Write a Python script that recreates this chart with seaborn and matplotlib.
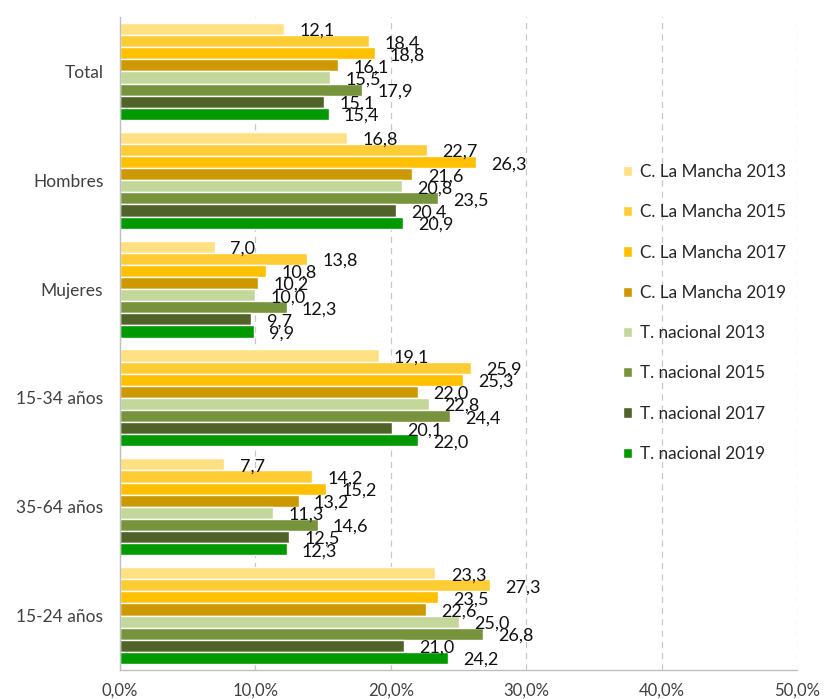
import pandas as pd
import matplotlib.pyplot as plt
import seaborn as sns
import numpy as np
from matplotlib.ticker import FuncFormatter, FixedLocator

# data (percent)
categories = ['Total', 'Hombres', 'Mujeres', '15-34 años', '35-64 años', '15-24 años']
series = ['C. La Mancha 2013', 'C. La Mancha 2015', 'C. La Mancha 2017', 'C. La Mancha 2019',
          'T. nacional 2013', 'T. nacional 2015', 'T. nacional 2017', 'T. nacional 2019']

clm_2013 = [12.1, 16.8, 7.0, 19.1, 7.7, 23.3]
clm_2015 = [18.4, 22.7, 13.8, 25.9, 14.2, 27.3]
clm_2017 = [18.8, 26.3, 10.8, 25.3, 15.2, 23.5]
clm_2019 = [16.1, 21.6, 10.2, 22.0, 13.2, 22.6]
tn_2013 = [15.5, 20.8, 10.0, 22.8, 11.3, 25.0]
tn_2015 = [17.9, 23.5, 12.3, 24.4, 14.6, 26.8]
tn_2017 = [15.1, 20.4, 9.7, 20.1, 12.5, 21.0]
tn_2019 = [15.4, 20.9, 9.9, 22.0, 12.3, 24.2]

colors = ['#FFE083', '#FFCD33', '#FFC000', '#CC9900',
          '#C4D79B', '#77933C', '#4F6228', '#009900']

values = [clm_2013, clm_2015, clm_2017, clm_2019, tn_2013, tn_2015, tn_2017, tn_2019]

# long format table for seaborn
rows = []
for s, vals in zip(series, values):
    for c, v in zip(categories, vals):
        rows.append({'grupo': c, 'serie': s, 'valor': v})
df = pd.DataFrame(rows)

sns.set_style('white')
plt.rcParams['font.family'] = ['Lato', 'DejaVu Sans']
narrow = ['Liberation Sans Narrow', 'Lato', 'DejaVu Sans']

fig = plt.figure(figsize=(8.24, 6.99), dpi=100)
ax = fig.add_axes([120/824, 1-670/699, (797-120)/824, (670-17)/699])

sns.barplot(data=df, x='valor', y='grupo', hue='serie', order=categories,
            hue_order=series, palette=colors, orient='h', width=0.89,
            edgecolor='white', linewidth=1.0, saturation=1, ax=ax)

# data labels (a touch below bar centre, like the original)
for cont, vals in zip(ax.containers, values):
    labs = [('%.1f' % v).replace('.', ',') for v in vals]
    txts = ax.bar_label(cont, labels=labs, padding=11, fontsize=13, color='#111111',
                        family=narrow)
    for t in txts:
        t.xyann = (11, -1.5)

ax.set_xlim(0, 50)
ax.set_ylim(5.5, -0.5)
ax.set_xticks(np.arange(0, 51, 10))
ax.xaxis.set_major_formatter(FuncFormatter(lambda v, p: ('%.1f%%' % v).replace('.', ',')))
ax.grid(axis='x', color='#C8C8C8', linestyle=(0, (5, 4)), linewidth=0.9)
ax.set_axisbelow(True)

ax.set_xlabel('')
ax.set_ylabel('')

# category ticks: labels centered, tick marks between groups
ax.tick_params(axis='y', which='major', length=0, pad=12, labelsize=12.5, labelcolor='#404040')
ax.yaxis.set_minor_locator(FixedLocator(np.arange(-0.5, 6, 1)))
ax.tick_params(axis='y', which='minor', length=5, color='#BFBFBF', direction='out')
ax.tick_params(axis='x', length=5, color='#BFBFBF', labelsize=12, labelcolor='#404040', pad=4)
for t in ax.get_xticklabels():
    t.set_family(narrow)

for s in ['top', 'right']:
    ax.spines[s].set_visible(False)
for s in ['left', 'bottom']:
    ax.spines[s].set_color('#BFBFBF')
    ax.spines[s].set_linewidth(1.0)

leg = ax.legend(loc='center left', bbox_to_anchor=(614/824, 1-313/699),
                bbox_transform=fig.transFigure, frameon=False, fontsize=12.3,
                handlelength=0.55, handleheight=0.55, handletextpad=0.5,
                labelspacing=1.42, borderpad=0)
for t in leg.get_texts():
    t.set_color('#262626')

plt.savefig('out.png', dpi=100)
